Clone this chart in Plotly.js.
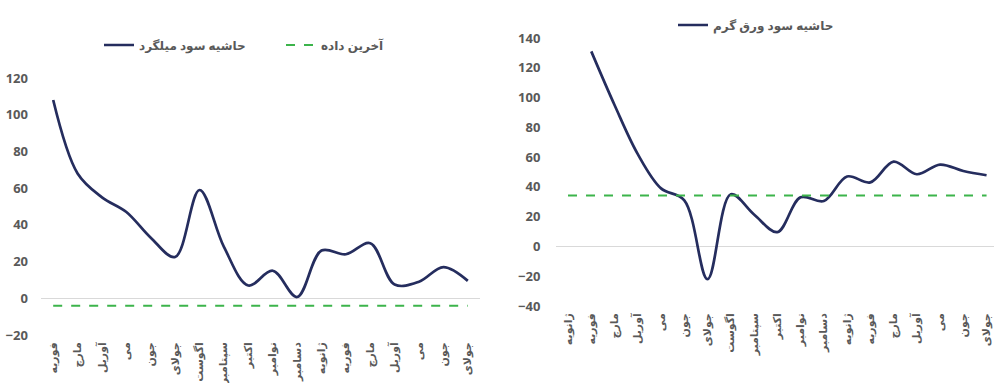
<!DOCTYPE html>
<html>
<head>
<meta charset="utf-8">
<script src="https://cdn.plot.ly/plotly-3.0.1.min.js"></script>
<style>html,body{margin:0;padding:0;background:#fff;}#chart{width:994px;height:383px;}</style>
</head>
<body>
<div id="chart"></div>
<script>
// Left chart: rebar margin
const leftMonths = ["فوریه","مارچ","آوریل","می","جون","جولای","اگوست","سپتامبر","اکتبر","نوامبر","دسامبر","ژانویه","فوریه","مارچ","آوریل","می","جون","جولای"];
const rebarMargin = [108, 68, 55, 47, 33, 22.5, 59, 28, 7, 15, 0.7, 26, 24, 30, 7.5, 9, 17, 9.5];
const rebarLast = -4;
const leftName = "حاشیه سود میلگرد";
const lastName = "آخرین داده";

// Right chart: hot-rolled sheet margin
const rightMonths = ["ژانویه","فوریه","مارچ","آوریل","می","جون","جولای","اگوست","سپتامبر","اکتبر","نوامبر","دسامبر","ژانویه","فوریه","مارچ","آوریل","می","جون","جولای"];
const sheetMargin = [null, 131, 95, 62, 39, 31, -22, 35, 21.5, 9.6, 33, 30.5, 47, 43, 57, 48.5, 55, 50.7, 47.8];
const sheetLast = 34.3;
const rightName = "حاشیه سود ورق گرم";

const navy = "#252d5e";
const green = "#3cb44b";
const grey = "#595959";
const fam = "Noto Sans, DejaVu Sans, sans-serif";

const idxL = leftMonths.map((_, i) => i);
const idxR = rightMonths.map((_, i) => i);

const traces = [
  {x: idxL, y: rebarMargin, name: leftName, type: "scatter", mode: "lines",
   line: {color: navy, width: 2.7, shape: "spline", smoothing: 1}, xaxis: "x", yaxis: "y", legend: "legend"},
  {x: [idxL[0], idxL[idxL.length-1]], y: [rebarLast, rebarLast], name: lastName, type: "scatter", mode: "lines",
   line: {color: green, width: 2, dash: "dash"}, xaxis: "x", yaxis: "y", legend: "legend"},
  {x: idxR, y: sheetMargin, name: rightName, type: "scatter", mode: "lines",
   line: {color: navy, width: 2.7, shape: "spline", smoothing: 1}, xaxis: "x2", yaxis: "y2", legend: "legend2"},
  {x: [idxR[0], idxR[idxR.length-1]], y: [sheetLast, sheetLast], name: lastName, type: "scatter", mode: "lines",
   line: {color: green, width: 2, dash: "dash"}, xaxis: "x2", yaxis: "y2", showlegend: false}
];

const W = 994, H = 383;
const tickFontY = {family: fam, size: 13, color: grey, weight: "bold"};
const tickFontX = {family: fam, size: 11, color: grey, weight: "bold"};
const legFont = {family: fam, size: 12, color: grey, weight: "bold"};

const layout = {
  width: W, height: H,
  margin: {l: 0, r: 0, t: 0, b: 0},
  paper_bgcolor: "#fff", plot_bgcolor: "#fff",
  showlegend: true,
  hovermode: false,
  font: {family: fam, color: grey},
  xaxis: {domain: [41/W, 480/W], range: [-0.5, 17.5], tickmode: "array", tickvals: idxL, ticktext: leftMonths,
          tickangle: -90, showgrid: false, zeroline: false, showline: false, ticks: "", tickfont: tickFontX,
          anchor: "y", ticklabelstandoff: 4},
  yaxis: {domain: [(H-335)/H, (H-78)/H], range: [-20, 120], dtick: 20, showgrid: false, zeroline: true,
          zerolinecolor: "#d9d9d9", zerolinewidth: 1, showline: false, ticks: "", tickfont: tickFontY,
          anchor: "x", ticklabelstandoff: 12},
  xaxis2: {domain: [556.4/W, 1], range: [-0.5, 18.32], tickmode: "array", tickvals: idxR, ticktext: rightMonths,
          tickangle: -90, showgrid: false, zeroline: false, showline: false, ticks: "", tickfont: tickFontX,
          anchor: "y2", ticklabelstandoff: 4},
  yaxis2: {domain: [(H-306)/H, (H-38)/H], range: [-40, 140], dtick: 20, showgrid: false, zeroline: true,
          zerolinecolor: "#d9d9d9", zerolinewidth: 1, showline: false, ticks: "", tickfont: tickFontY,
          anchor: "x2", ticklabelstandoff: 15},
  legend: {orientation: "h", x: 281/W, xanchor: "center", y: (H-45)/H, yanchor: "middle",
           font: legFont, itemwidth: 30, entrywidth: 137, bgcolor: "rgba(0,0,0,0)"},
  legend2: {orientation: "h", x: 756/W, xanchor: "center", y: (H-25)/H, yanchor: "middle",
           font: legFont, itemwidth: 30, bgcolor: "rgba(0,0,0,0)"}
};

Plotly.newPlot("chart", traces, layout, {staticPlot: true, displayModeBar: false});
</script>
</body>
</html>
